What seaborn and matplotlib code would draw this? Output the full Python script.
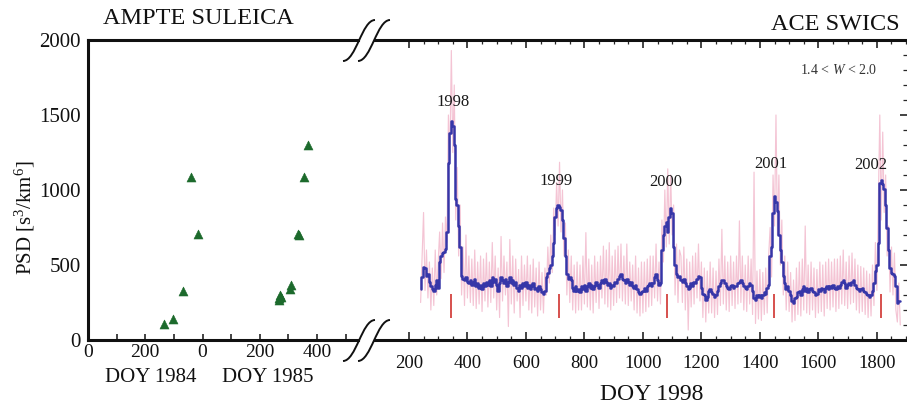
import numpy as np
import pandas as pd
import matplotlib
matplotlib.use("Agg")
import matplotlib.pyplot as plt
from matplotlib.path import Path
from matplotlib.patches import PathPatch
from matplotlib.ticker import FixedLocator, MultipleLocator
import seaborn as sns

# ---------------- data ----------------
# AMPTE SULEICA: position along the 1984/1985 day axis and phase space density
suleica_day = [265, 298, 333, 358, 383, 667, 672, 668, 675, 709, 705, 733, 737, 755, 768]
suleica_psd = [110, 140, 330, 1090, 710, 270, 300, 280, 285, 370, 340, 710, 700, 1085, 1300]
left_tick_pos = [0, 200, 400, 600, 800]
left_tick_labels = ["0", "200", "0", "200", "400"]

# ACE SWICS: 5-day samples starting at DOY 240 (DOY counted from 1998-01-01)
swics_start = 240
swics_step = 5
swics_smooth = [
    340, 420, 490, 480, 430, 440, 390, 360, 340, 330, 370, 400, 350, 520, 560, 580, 590,
    610, 720, 1180, 1380, 1460, 1430, 1300, 940, 900, 760, 620, 430, 410, 400, 420, 390,
    380, 400, 370, 390, 410, 360, 380, 350, 370, 340, 380, 360, 390, 370, 400, 360, 420,
    390, 410, 370, 330, 380, 420, 400, 380, 410, 360, 390, 420, 380, 400, 370, 390, 350,
    330, 370, 350, 380, 360, 390, 350, 370, 340, 360, 380, 340, 350, 330, 360, 340, 320, 310,
    330, 420, 450, 480, 500, 560, 650, 820, 880, 900, 890, 870, 800, 680, 560, 440, 410,
    420, 400, 350, 330, 360, 330, 340,
    320, 360, 340, 370, 330, 360, 380, 350, 370, 340, 360, 390, 370, 350, 380, 400, 380,
    410, 390, 370, 380, 350, 370, 360, 390, 380, 410, 430, 440, 410, 400, 380, 410, 390,
    370, 390, 360, 350, 370, 340, 320, 310, 320, 330, 350, 330, 360, 370, 380, 360, 380,
    420, 440, 400, 370, 380,
    600, 700, 760, 790, 720, 820, 880, 850, 620, 500, 440, 420, 430,
    400, 390, 410, 380, 360, 340, 350, 380, 360, 390, 380, 410, 430, 420, 350, 310, 300,
    270, 290, 330, 340, 320, 310, 290, 300, 330, 360, 380, 400, 400, 380, 360, 350, 340,
    360, 370, 350, 360, 360, 380, 390, 400, 380, 360, 350, 340, 360, 380, 370, 330, 280,
    270, 300, 290, 300, 280, 300, 320, 310, 350, 370,
    560, 620, 850, 960, 920, 860, 700, 600, 520, 430, 380, 340, 360, 330, 300, 260, 250,
    280, 290, 320, 330, 300, 340, 360, 330, 350, 320, 340,
    350, 330, 320, 300, 310, 340, 330, 350, 340, 320, 350, 360, 340, 360, 350, 370, 350,
    340, 360, 350, 370, 390, 400, 380, 350, 370, 380, 370, 390, 400, 370, 350, 340, 330,
    340, 350, 330, 320, 310, 300, 290, 300, 330, 380, 460, 500, 650, 1050, 1070, 1040,
    1010, 900, 750, 600, 480, 450, 440, 430, 360, 250, 260, 260,
]
swics_raw = [
    250, 560, 850, 330, 600, 280, 520, 200, 480, 230, 600, 300, 520, 720, 410, 780, 450,
    820, 650, 1500, 1200, 1930, 1250, 1700, 800, 1150, 560, 900, 300, 620, 230, 700, 280,
    560, 250, 540, 230, 600, 210, 520, 240, 560, 190, 540, 260, 580, 220, 520, 250, 650,
    280, 560, 200, 480, 150, 690, 260, 560, 300, 520, 90, 670, 240, 560, 180, 540, 260,
    470, 150, 560, 230, 500, 260, 560, 200, 500, 180, 540, 220, 480, 160, 520, 200, 450, 180,
    480, 300, 620, 380, 700, 450, 880, 700, 1050, 760, 1185, 720, 1000, 560, 780, 300, 600,
    250, 560, 200, 500, 180, 520, 200,
    500, 200, 560, 240, 716, 220, 540, 200, 500, 180, 560, 250, 520, 210, 560, 280, 626,
    240, 600, 220, 649, 200, 560, 230, 600, 250, 626, 280, 640, 260, 560, 240, 640, 230,
    520, 260, 500, 200, 560, 180, 480, 160, 520, 180, 520, 190, 540, 220, 560, 230, 560,
    280, 640, 260, 520, 240,
    800, 520, 1000, 620, 1141, 640, 1100, 700, 900, 300, 640, 250, 600,
    560, 250, 620, 200, 540, 67, 520, 220, 560, 240, 580, 280, 640, 260, 520, 150, 480,
    120, 460, 180, 520, 180, 480, 150, 460, 170, 540, 230, 738, 240, 560, 200, 520, 190,
    560, 230, 520, 210, 560, 240, 794, 250, 560, 200, 500, 190, 560, 240, 540, 170, 1119,
    110, 460, 140, 470, 130, 450, 170, 480, 180, 560,
    750, 420, 1100, 760, 1500, 700, 1100, 500, 800, 300, 560, 200, 520, 190, 450, 120, 400,
    130, 480, 170, 520, 160, 540, 200, 760, 180, 500, 170,
    520, 200, 480, 150, 470, 180, 520, 190, 500, 160, 520, 210, 540, 200, 520, 220, 540,
    190, 540, 210, 560, 240, 600, 230, 520, 210, 560, 240, 580, 250, 540, 200, 500, 180,
    490, 190, 480, 170, 460, 150, 440, 160, 500, 230, 650, 330, 900, 1500, 800, 1386,
    850, 1100, 560, 760, 320, 620, 300, 580, 200, 120, 380, 100,
]
year_mark_doy = [343, 712, 1083, 1448, 1814]
year_labels = ["1998", "1999", "2000", "2001", "2002"]
year_label_doy = [350, 703, 1079, 1438, 1779]
year_label_psd = [1590, 1060, 1055, 1175, 1168]

# ---------------- style ----------------
sns.set_theme(style="white")
plt.rcParams["font.family"] = ["Liberation Serif", "DejaVu Serif"]
plt.rcParams["mathtext.fontset"] = "custom"
plt.rcParams["mathtext.rm"] = "Liberation Serif"
plt.rcParams["mathtext.it"] = "Liberation Serif:italic"

W, H = 907, 408
fig = plt.figure(figsize=(W / 100, H / 100), dpi=100)
fig.patch.set_facecolor("white")


def fx(px):
    return px / W


def fy(py):
    return 1 - py / H


TOP, BOT = 40, 340
ax1 = fig.add_axes([fx(88), fy(BOT), fx(358 - 88), (BOT - TOP) / H])
ax2 = fig.add_axes([fx(375), fy(BOT), fx(907 - 375), (BOT - TOP) / H])

# ---------------- left panel: AMPTE SULEICA ----------------
left_df = pd.DataFrame({"day": suleica_day, "psd": suleica_psd})
sns.scatterplot(data=left_df, x="day", y="psd", ax=ax1, marker="^", s=42,
                color="#1c6a2c", edgecolor="#1c6a2c", linewidth=0.4, legend=False, zorder=3)
ax1.set_xlim(0, 943)
ax1.set_ylim(0, 2000)
ax1.set_xlabel("")
ax1.set_ylabel("")
ax1.xaxis.set_major_locator(FixedLocator(left_tick_pos))
ax1.set_xticklabels(left_tick_labels)
ax1.xaxis.set_minor_locator(MultipleLocator(100))
ax1.yaxis.set_major_locator(MultipleLocator(500))
ax1.tick_params(axis="x", which="both", direction="in", length=4, width=1.1,
                bottom=True, top=False, labelsize=14, pad=3, colors="#111111")
ax1.tick_params(axis="y", which="both", length=0, labelsize=15, pad=5, colors="#111111")
for side in ("left", "top", "bottom"):
    ax1.spines[side].set_linewidth(2.2)
    ax1.spines[side].set_color("#111111")
ax1.spines["right"].set_visible(False)

# ---------------- right panel: ACE SWICS ----------------
doy = swics_start + swics_step * np.arange(len(swics_smooth))
right_df = pd.DataFrame({"doy": doy, "smooth": swics_smooth, "raw": swics_raw})
sns.lineplot(data=right_df, x="doy", y="raw", ax=ax2, color="#f4c4d4", lw=0.85,
             estimator=None, sort=False, zorder=1)
sns.lineplot(data=right_df, x="doy", y="smooth", ax=ax2, color="#3636a8", lw=1.8,
             estimator=None, sort=False, drawstyle="steps-mid", zorder=3)
ax2.vlines(year_mark_doy, 150, 310, color="#d3423f", lw=1.3, zorder=4)
for d, p, lab in zip(year_label_doy, year_label_psd, year_labels):
    ax2.text(d, p, lab, ha="center", va="center", fontsize=12, color="#1a1a1a", zorder=5)

ax2.set_xlim(84, 1903)
ax2.set_ylim(0, 2000)
ax2.set_xlabel("")
ax2.set_ylabel("")
ax2.xaxis.set_major_locator(FixedLocator(list(range(200, 1801, 200))))
ax2.xaxis.set_minor_locator(FixedLocator(list(range(200, 1901, 50))))
ax2.yaxis.set_major_locator(MultipleLocator(500))
ax2.yaxis.set_minor_locator(MultipleLocator(100))
ax2.tick_params(axis="x", which="major", direction="in", length=6, width=1.1,
                top=True, bottom=True, labelsize=13.5, pad=11, colors="#111111")
ax2.tick_params(axis="x", which="minor", direction="in", length=3, width=0.9,
                top=True, bottom=True)
ax2.tick_params(axis="y", which="major", direction="in", length=5, width=1.1,
                left=False, right=True, labelleft=False, labelright=False, colors="#111111")
ax2.tick_params(axis="y", which="minor", direction="in", length=3, width=0.9,
                left=False, right=True)
for side in ("top", "bottom"):
    ax2.spines[side].set_linewidth(2.2)
    ax2.spines[side].set_color("#111111")
for side in ("left", "right"):
    ax2.spines[side].set_visible(False)


# ---------------- axis-break marks ----------------
def break_mark(y_px, x0):
    pts = [(x0, y_px + 21), (x0 + 13, y_px + 21), (x0 + 19, y_px - 20), (x0 + 32, y_px - 20)]
    verts = [(fx(x), fy(y)) for x, y in pts]
    path = Path(verts, [Path.MOVETO, Path.CURVE4, Path.CURVE4, Path.CURVE4])
    fig.add_artist(PathPatch(path, transform=fig.transFigure, fill=False,
                             lw=1.4, edgecolor="#111111"))


for yb in (TOP, BOT):
    break_mark(yb, 343)
    break_mark(yb, 358)

# ---------------- text ----------------
fig.text(fx(198), fy(18), "AMPTE SULEICA", ha="center", va="center", fontsize=17.5,
         color="#111111")
fig.text(fx(900), fy(24), "ACE SWICS", ha="right", va="center", fontsize=17.5,
         color="#111111")
fig.text(fx(839), fy(70), "1.4 < $W$ < 2.0", ha="center", va="center", fontsize=10,
         color="#333333")
fig.text(fx(25), fy(218), "PSD [s$^3$/km$^6$]", rotation=90, ha="center", va="center",
         fontsize=15, color="#111111")
fig.text(fx(151), fy(378), "DOY 1984", ha="center", va="center", fontsize=15,
         color="#111111")
fig.text(fx(268), fy(378), "DOY 1985", ha="center", va="center", fontsize=15,
         color="#111111")
fig.text(fx(652), fy(395), "DOY 1998", ha="center", va="center", fontsize=17,
         color="#111111")

fig.savefig("out.png", dpi=100, facecolor="white")
